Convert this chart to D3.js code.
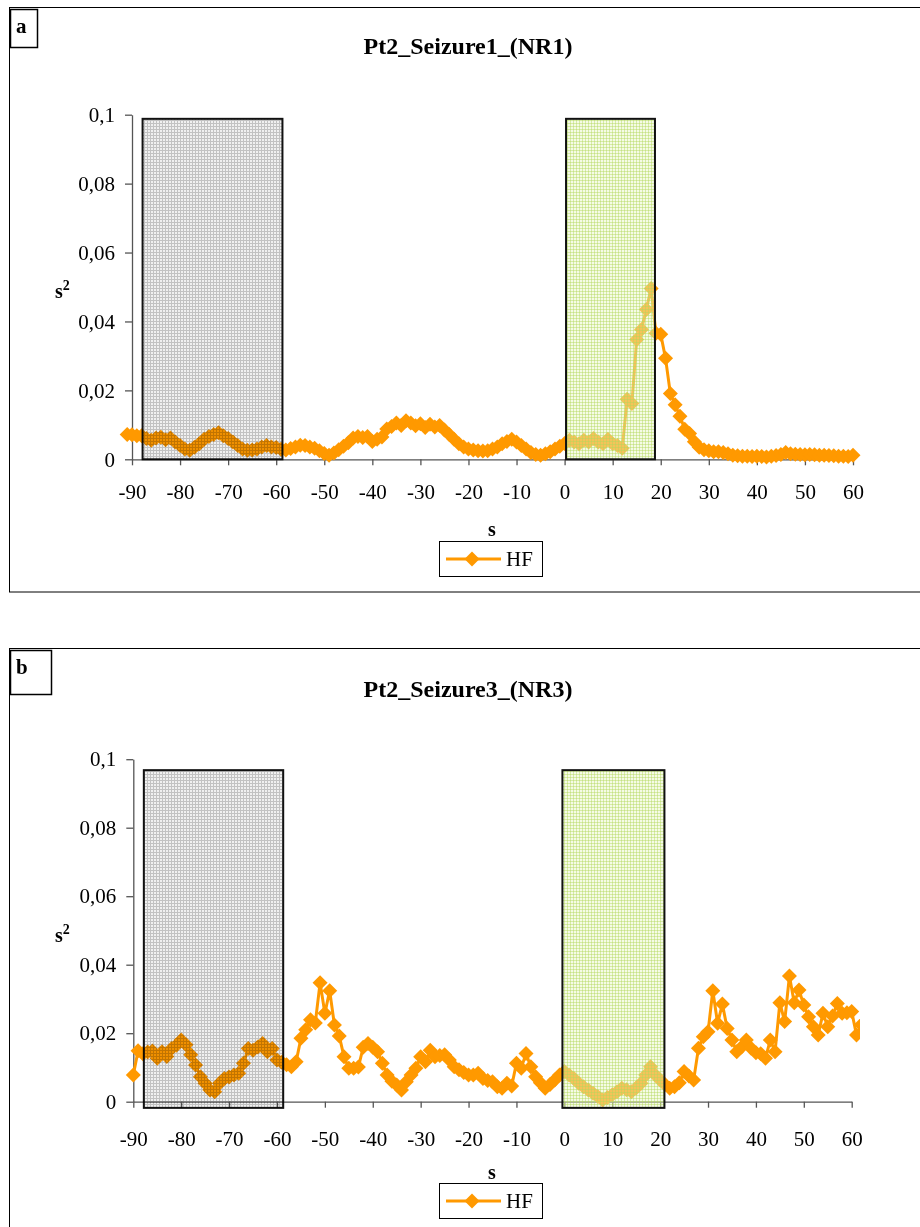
<!DOCTYPE html>
<html>
<head>
<meta charset="utf-8">
<script src="https://cdn.jsdelivr.net/npm/d3@7"></script>
<style>
  html, body { margin: 0; padding: 0; background: #fff; }
  svg { display: block; }
  text { font-family: "Liberation Serif", "Times New Roman", serif; fill: #000; }
</style>
</head>
<body>
<svg id="chart" width="920" height="1227"></svg>
<script>
// ---------------- DATA ----------------
const seriesName = "HF";
const xTickValues = [-90, -80, -70, -60, -50, -40, -30, -20, -10, 0, 10, 20, 30, 40, 50, 60];
const yTickValues = [0, 0.02, 0.04, 0.06, 0.08, 0.1];
const yTickLabels = ["0", "0,02", "0,04", "0,06", "0,08", "0,1"];

// Panel a: Pt2_Seizure1_(NR1)  — seconds -91 .. 60
const titleA = "Pt2_Seizure1_(NR1)";
const secondsA = d3.range(-91, 61);
const hfA = [
  0.0072, 0.0071, 0.0068, 0.0068, 0.0060, 0.0055, 0.0062, 0.0064, 0.0057, 0.0062, // -91..-82
  0.0050, 0.0040, 0.0030, 0.0026, 0.0035, 0.0045, 0.0058, 0.0066, 0.0072, 0.0077, // -81..-72
  0.0068, 0.0060, 0.0050, 0.0040, 0.0030, 0.0026, 0.0027, 0.0030, 0.0036, 0.0040, // -71..-62
  0.0036, 0.0034, 0.0029, 0.0027, 0.0031, 0.0036, 0.0041, 0.0040, 0.0036, 0.0032, // -61..-52
  0.0025, 0.0017, 0.0012, 0.0018, 0.0028, 0.0038, 0.0048, 0.0062, 0.0066, 0.0063, // -51..-42
  0.0066, 0.0052, 0.0058, 0.0065, 0.0088, 0.0095, 0.0105, 0.0098, 0.0112, 0.0105, // -41..-32
  0.0097, 0.0103, 0.0092, 0.0102, 0.0094, 0.0098, 0.0085, 0.0072, 0.0058, 0.0045, // -31..-22
  0.0036, 0.0030, 0.0027, 0.0025, 0.0024, 0.0025, 0.0030, 0.0036, 0.0045, 0.0052, // -21..-12
  0.0058, 0.0050, 0.0040, 0.0030, 0.0020, 0.0014, 0.0012, 0.0016, 0.0022, 0.0030, // -11..-2
  0.0038, 0.0046, 0.0055, 0.0050, 0.0045, 0.0055, 0.0050, 0.0060, 0.0050, 0.0045, // -1..8
  0.0058, 0.0045, 0.0040, 0.0032, 0.0174, 0.0162, 0.0348, 0.0377, 0.0435, 0.0496, // 9..18
  0.0366, 0.0363, 0.0293, 0.0191, 0.0158, 0.0125, 0.0087, 0.0075, 0.0051, 0.0035, // 19..28
  0.0028, 0.0025, 0.0022, 0.0022, 0.0020, 0.0016, 0.0012, 0.0010, 0.0009, 0.0009, // 29..38
  0.0008, 0.0009, 0.0008, 0.0007, 0.0009, 0.0011, 0.0014, 0.0020, 0.0016, 0.0015, // 39..48
  0.0014, 0.0013, 0.0014, 0.0013, 0.0012, 0.0012, 0.0011, 0.0010, 0.0009, 0.0009, // 49..58
  0.0008, 0.0012                                                                   // 59..60
];
const greyWindowA = [-87.8, -58.7];
const greenWindowA = [0.3, 18.8];

// Panel b: Pt2_Seizure3_(NR3) — seconds -90 .. 62
const titleB = "Pt2_Seizure3_(NR3)";
const secondsB = d3.range(-90, 63);
const hfB = [
  0.0078, 0.0149, 0.0140, 0.0145, 0.0148, 0.0127, 0.0146, 0.0132, 0.0155, 0.0165, // -90..-81
  0.0180, 0.0166, 0.0137, 0.0107, 0.0073, 0.0054, 0.0034, 0.0029, 0.0054, 0.0068, // -80..-71
  0.0072, 0.0078, 0.0083, 0.0112, 0.0155, 0.0150, 0.0160, 0.0170, 0.0146, 0.0155, // -70..-61
  0.0122, 0.0115, 0.0108, 0.0102, 0.0117, 0.0185, 0.0210, 0.0239, 0.0230, 0.0347, // -60..-51
  0.0258, 0.0324, 0.0224, 0.0192, 0.0131, 0.0098, 0.0098, 0.0101, 0.0159, 0.0170, // -50..-41
  0.0159, 0.0146, 0.0112, 0.0078, 0.0060, 0.0049, 0.0034, 0.0058, 0.0078, 0.0098, // -40..-31
  0.0131, 0.0117, 0.0150, 0.0131, 0.0135, 0.0137, 0.0122, 0.0102, 0.0093, 0.0085, // -30..-21
  0.0078, 0.0078, 0.0083, 0.0068, 0.0062, 0.0058, 0.0044, 0.0039, 0.0054, 0.0046, // -20..-11
  0.0112, 0.0098, 0.0141, 0.0102, 0.0073, 0.0055, 0.0039, 0.0050, 0.0063, 0.0078, // -10..-1
  0.0088, 0.0078, 0.0068, 0.0054, 0.0044, 0.0034, 0.0025, 0.0015, 0.0005, 0.0012, // 0..9
  0.0020, 0.0029, 0.0039, 0.0035, 0.0029, 0.0040, 0.0054, 0.0078, 0.0102, 0.0078, // 10..19
  0.0063, 0.0050, 0.0039, 0.0044, 0.0055, 0.0088, 0.0075, 0.0063, 0.0156, 0.0190, // 20..29
  0.0204, 0.0324, 0.0229, 0.0285, 0.0214, 0.0180, 0.0146, 0.0160, 0.0180, 0.0156, // 30..39
  0.0143, 0.0140, 0.0127, 0.0180, 0.0146, 0.0289, 0.0234, 0.0367, 0.0289, 0.0326, // 40..49
  0.0282, 0.0248, 0.0219, 0.0195, 0.0258, 0.0219, 0.0250, 0.0287, 0.0258, 0.0260, // 50..59
  0.0263, 0.0195, 0.0225                                                           // 60..62
];
const greyWindowB = [-87.8, -58.7];
const greenWindowB = [-0.4, 20.9];

// ---------------- DRAW ----------------
const svg = d3.select("#chart");
const ORANGE = "#FF9900";
const FONT = '"Liberation Serif", "Times New Roman", serif';

const defs = svg.append("defs");
function gridPattern(id, bg, bgOpacity, line, lineOpacity) {
  const p = defs.append("pattern").attr("id", id).attr("patternUnits", "userSpaceOnUse")
    .attr("width", 3).attr("height", 3);
  p.append("rect").attr("width", 3).attr("height", 3).attr("fill", bg).attr("fill-opacity", bgOpacity);
  p.append("path").attr("d", "M0,0.5H3M0.5,0V3").attr("stroke", line).attr("stroke-opacity", lineOpacity)
    .attr("stroke-width", 1).attr("fill", "none");
}
gridPattern("greyGrid", "#f0f0f0", 1, "#c2c2c2", 1);
gridPattern("greenGrid", "#e9f6c6", 0.45, "#b2d85a", 0.45);

function diamondPath(r) { return `M0,${-r}L${r},0L0,${r}L${-r},0Z`; }

function drawPanel(cfg) {
  const g = svg.append("g");

  // outer frame
  g.append("rect").attr("x", 9.5).attr("y", cfg.frameTop + 0.5).attr("width", 930).attr("height", cfg.frameH)
    .attr("fill", "none").attr("stroke", "#000").attr("stroke-width", 1);
  // letter box
  g.append("rect").attr("x", 10.5).attr("y", cfg.frameTop + 2.5).attr("width", cfg.labW).attr("height", cfg.labH)
    .attr("fill", "#fff").attr("stroke", "#000").attr("stroke-width", 1.5);
  g.append("text").attr("x", 16).attr("y", cfg.frameTop + 26).attr("font-size", 21).attr("font-weight", "bold")
    .text(cfg.letter);

  // title
  g.append("text").attr("x", cfg.titleX).attr("y", cfg.titleY).attr("text-anchor", "middle")
    .attr("font-size", 24).attr("font-weight", "bold").text(cfg.title);

  const x = d3.scaleLinear().domain([-90, 60]).range([cfg.x0, cfg.x1]);
  const y = d3.scaleLinear().domain([0, 0.1]).range([cfg.y0, cfg.y1]);

  // y axis
  const yAxis = d3.axisLeft(y).tickValues(yTickValues)
    .tickFormat((d, i) => yTickLabels[i]).tickSize(7).tickSizeOuter(0).tickPadding(10);
  const gy = g.append("g").attr("transform", `translate(${cfg.x0},0)`).call(yAxis);
  gy.selectAll("text").attr("font-size", 21).attr("font-family", FONT).attr("fill", "#000");
  gy.selectAll("line,path").attr("stroke", "#555").attr("stroke-width", 1.3);

  // x axis
  const xAxis = d3.axisBottom(x).tickValues(xTickValues).tickFormat(d => String(d))
    .tickSize(6).tickSizeOuter(0).tickPadding(cfg.xPad);
  const gx = g.append("g").attr("transform", `translate(0,${cfg.y0})`).call(xAxis);
  gx.selectAll("text").attr("font-size", 21).attr("font-family", FONT).attr("fill", "#000");
  gx.selectAll("line,path").attr("stroke", "#555").attr("stroke-width", 1.3);

  // axis titles
  const yl = g.append("text").attr("x", cfg.yLabX).attr("y", cfg.yLabY).attr("font-size", 20).attr("font-weight", "bold");
  yl.append("tspan").text("s");
  yl.append("tspan").attr("dy", -8).attr("font-size", 14).text("2");
  g.append("text").attr("x", cfg.xLabX).attr("y", cfg.xLabY).attr("text-anchor", "middle")
    .attr("font-size", 20).attr("font-weight", "bold").text("s");

  // data
  const clipId = "clip" + cfg.letter;
  defs.append("clipPath").attr("id", clipId).append("rect")
    .attr("x", 0).attr("y", 0).attr("width", cfg.clipX).attr("height", 1227);
  const data = cfg.secs.map((s, i) => ({ s, v: cfg.vals[i] }));
  const dg = g.append("g").attr("clip-path", `url(#${clipId})`);
  dg.append("path").datum(data)
    .attr("d", d3.line().x(d => x(d.s)).y(d => y(d.v)))
    .attr("fill", "none").attr("stroke", ORANGE).attr("stroke-width", 3).attr("stroke-linejoin", "round");
  dg.selectAll("path.pt").data(data).join("path").attr("class", "pt")
    .attr("transform", d => `translate(${x(d.s)},${y(d.v)})`)
    .attr("d", diamondPath(7.5)).attr("fill", ORANGE);

  // shaded windows (drawn over the data)
  const wins = [
    { w: cfg.grey, fill: "url(#greyGrid)", blend: "multiply" },
    { w: cfg.green, fill: "url(#greenGrid)", blend: "normal" }
  ];
  g.selectAll("rect.win").data(wins).join("rect").attr("class", "win")
    .attr("x", d => x(d.w[0])).attr("width", d => x(d.w[1]) - x(d.w[0]))
    .attr("y", y(cfg.winTop)).attr("height", y(cfg.winBottom) - y(cfg.winTop))
    .attr("fill", d => d.fill).style("mix-blend-mode", d => d.blend)
    .attr("stroke", "#111").attr("stroke-width", 2);

  // legend
  const lg = g.append("g");
  lg.append("rect").attr("x", 439.5).attr("y", cfg.legY + 0.5).attr("width", 103).attr("height", 35)
    .attr("fill", "#fff").attr("stroke", "#000").attr("stroke-width", 1);
  lg.append("line").attr("x1", 446).attr("x2", 501).attr("y1", cfg.legY + 18).attr("y2", cfg.legY + 18)
    .attr("stroke", ORANGE).attr("stroke-width", 3);
  lg.append("path").attr("transform", `translate(472,${cfg.legY + 18})`).attr("d", diamondPath(7.5)).attr("fill", ORANGE);
  lg.append("text").attr("x", 506).attr("y", cfg.legY + 25).attr("font-size", 21).text(seriesName);
}

drawPanel({
  letter: "a", title: titleA, secs: secondsA, vals: hfA,
  frameTop: 7, frameH: 584.5, labW: 27, labH: 38,
  titleX: 468, titleY: 54,
  x0: 132, x1: 853, y0: 459.3, y1: 114.7, xPad: 19,
  yLabX: 55, yLabY: 298, xLabX: 492, xLabY: 536,
  clipX: 870, grey: greyWindowA, green: greenWindowA, winTop: 0.0988, winBottom: 0,
  legY: 541
});

drawPanel({
  letter: "b", title: titleB, secs: secondsB, vals: hfB,
  frameTop: 648, frameH: 700, labW: 41, labH: 44,
  titleX: 468, titleY: 697,
  x0: 133.3, x1: 851.7, y0: 1101.7, y1: 759.2, xPad: 23,
  yLabX: 55, yLabY: 942, xLabX: 492, xLabY: 1179,
  clipX: 860, grey: greyWindowB, green: greenWindowB, winTop: 0.0968, winBottom: -0.0018,
  legY: 1183
});
</script>
</body>
</html>
